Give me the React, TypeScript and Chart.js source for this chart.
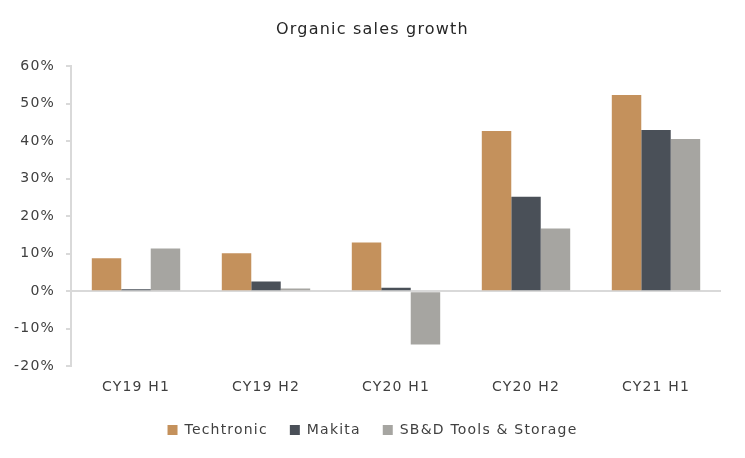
import React, { useEffect, useRef } from "react";
import { Chart, registerables } from "chart.js";

Chart.register(...registerables);

const categories = ["CY19 H1", "CY19 H2", "CY20 H1", "CY20 H2", "CY21 H1"];
const techtronic = [8.8, 10.1, 13.0, 42.7, 52.3];
const makita = [0.5, 2.6, 0.9, 25.2, 43.0];
const sbd = [11.4, 0.7, -14.2, 16.7, 40.6];
const yTicks = { min: -20, max: 60, step: 10 };

const FONT = "'DejaVu Sans', sans-serif";

const spacingPlugin = {
  id: "spacing",
  beforeLayout(chart: any) {
    chart.ctx.letterSpacing = "1.2px";
  },
  afterLayout(chart: any) {
    const w = chart.width;
    for (const box of [chart.titleBlock, chart.legend]) {
      if (!box) continue;
      const bw = box.right - box.left;
      box.left = (w - bw) / 2;
      box.right = box.left + bw;
    }
  },
  beforeDraw(chart: any) {
    chart.ctx.letterSpacing = "1.2px";
  },
};

export default function App() {
  const ref = useRef<HTMLCanvasElement>(null);
  useEffect(() => {
    document.body.style.margin = "0";
    const ctx = ref.current!.getContext("2d")!;
    const chart = new Chart(ctx, {
      type: "bar",
      plugins: [spacingPlugin],
      data: {
        labels: categories,
        datasets: [
          { label: "Techtronic", data: techtronic, backgroundColor: "#C4915C" },
          { label: "Makita", data: makita, backgroundColor: "#4A5058" },
          { label: "SB&D Tools & Storage", data: sbd, backgroundColor: "#A6A5A1" },
        ],
      },
      options: {
        animation: false,
        responsive: false,
        maintainAspectRatio: false,
        layout: { padding: { left: 6, right: 24, top: 8, bottom: 11 } },
        datasets: { bar: { categoryPercentage: 0.68, barPercentage: 1 } },
        plugins: {
          title: {
            display: true,
            text: "Organic sales growth",
            color: "#262626",
            font: { family: FONT, size: 16, weight: "normal" },
            padding: { top: 12, bottom: 27 },
          },
          legend: {
            position: "bottom",
            labels: {
              boxWidth: 10,
              boxHeight: 10,
              color: "#404040",
              font: { family: FONT, size: 14 },
              padding: 22,
            },
          },
          tooltip: { enabled: false },
        },
        scales: {
          x: {
            grid: { display: false },
            border: { display: false },
            ticks: { color: "#404040", font: { family: FONT, size: 14 }, padding: 5 },
          },
          y: {
            min: yTicks.min,
            max: yTicks.max,
            afterFit: (s: any) => {
              s.width = 65;
            },
            ticks: {
              stepSize: yTicks.step,
              color: "#404040",
              font: { family: FONT, size: 14 },
              padding: 11,
              callback: (v: any) => v + "%",
            },
            grid: {
              drawOnChartArea: true,
              color: (c: any) => (c.tick && c.tick.value === 0 ? "#d9d9d9" : "transparent"),
              tickColor: "#d9d9d9",
              tickLength: 5,
              lineWidth: 2,
            },
            border: { display: true, color: "#d9d9d9", width: 2 },
          },
        },
      },
    });
    return () => chart.destroy();
  }, []);
  return (
    <div style={{ position: "absolute", left: 0, top: 0, width: 745, height: 458, background: "#fff" }}>
      <canvas ref={ref} width={745} height={458} />
    </div>
  );
}
